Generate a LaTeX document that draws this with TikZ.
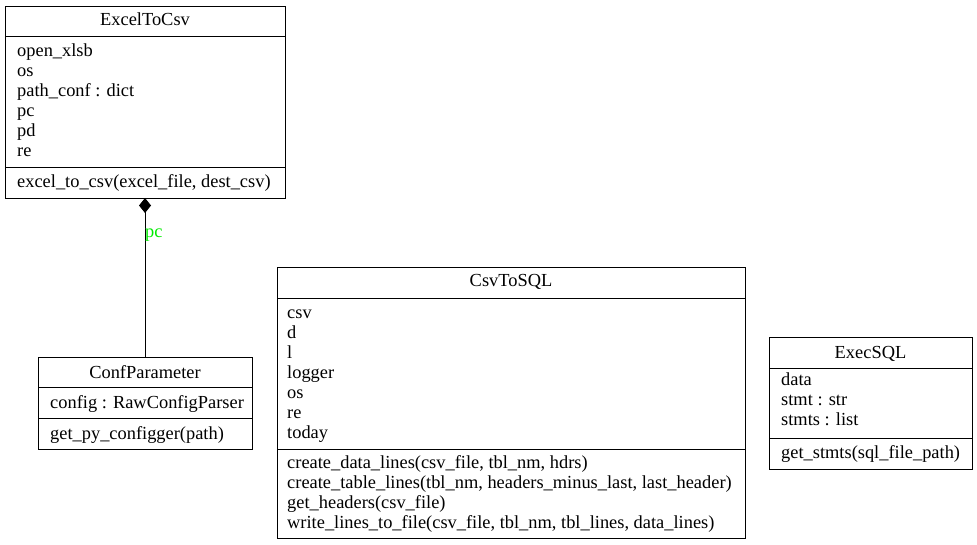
\documentclass[tikz,border=0pt]{standalone}
\usepackage{fontspec}
\setmainfont{Liberation Serif}
\usetikzlibrary{arrows.meta}
\definecolor{pcgreen}{RGB}{0,235,0}
\begin{document}
\begin{tikzpicture}[x=1pt,y=-1pt,
  sect/.style={draw, line width=0.9pt, anchor=north west, inner sep=0pt, outer sep=0pt},
  txt/.style={anchor=base west, inner sep=0pt, font=\fontsize{18.4}{20}\selectfont},
  ttl/.style={anchor=base, inner sep=0pt, font=\fontsize{18.4}{20}\selectfont},
  lbl/.style={txt, text=pcgreen},
  conn/.style={line width=0.9pt, -{Diamond[length=15pt,width=12pt]}}]
\useasboundingbox (0,0) rectangle (977,545);
% ExcelToCsv
\node[sect, minimum width=280pt, minimum height=30pt] (e1) at (5,6) {};
\node[sect, minimum width=280pt, minimum height=131pt] (e2) at (5,36) {};
\node[sect, minimum width=280pt, minimum height=31pt] (e3) at (5,167) {};
\node[ttl] (et) at (145,26) {ExcelToCsv};
\foreach \t [count=\i] in {open\_xlsb, os, path\_conf : dict, pc, pd, re}
  \node[txt] (ea\i) at (17,{37+20*\i}) {\t};
\node[txt] (em1) at (17,188) {excel\_to\_csv(excel\_file, dest\_csv)};
% ConfParameter
\node[sect, minimum width=214pt, minimum height=30pt] (c1) at (38,357) {};
\node[sect, minimum width=214pt, minimum height=31pt] (c2) at (38,387) {};
\node[sect, minimum width=214pt, minimum height=31pt] (c3) at (38,418) {};
\node[ttl] (ct) at (145,378) {ConfParameter};
\node[txt] (ca1) at (50,408) {config : RawConfigParser};
\node[txt] (cm1) at (50,439) {get\_py\_configger(path)};
% CsvToSQL
\node[sect, minimum width=468pt, minimum height=31pt] (s1) at (277,267) {};
\node[sect, minimum width=468pt, minimum height=151pt] (s2) at (277,298) {};
\node[sect, minimum width=468pt, minimum height=89pt] (s3) at (277,449) {};
\node[ttl] (st) at (511,287) {CsvToSQL};
\foreach \t [count=\i] in {csv, d, l, logger, os, re, today}
  \node[txt] (sa\i) at (287,{298+20*\i}) {\t};
\foreach \t [count=\i] in {{create\_data\_lines(csv\_file, tbl\_nm, hdrs)},
  {create\_table\_lines(tbl\_nm, headers\_minus\_last, last\_header)},
  {get\_headers(csv\_file)},
  {write\_lines\_to\_file(csv\_file, tbl\_nm, tbl\_lines, data\_lines)}}
  \node[txt] (sm\i) at (287,{448+20*\i}) {\t};
% ExecSQL
\node[sect, minimum width=203pt, minimum height=31pt] (x1) at (769,337) {};
\node[sect, minimum width=203pt, minimum height=70pt] (x2) at (769,368) {};
\node[sect, minimum width=203pt, minimum height=31pt] (x3) at (769,438) {};
\node[ttl] (xt) at (870.5,358) {ExecSQL};
\foreach \t [count=\i] in {data, stmt : str, stmts : list}
  \node[txt] (xa\i) at (781,{365+20*\i}) {\t};
\node[txt] (xm1) at (781,458) {get\_stmts(sql\_file\_path)};
% composition
\draw[conn] (c1.north) -- (e3.south);
\node[lbl] (pclbl) at (145,238) {pc};
\end{tikzpicture}
\end{document}
